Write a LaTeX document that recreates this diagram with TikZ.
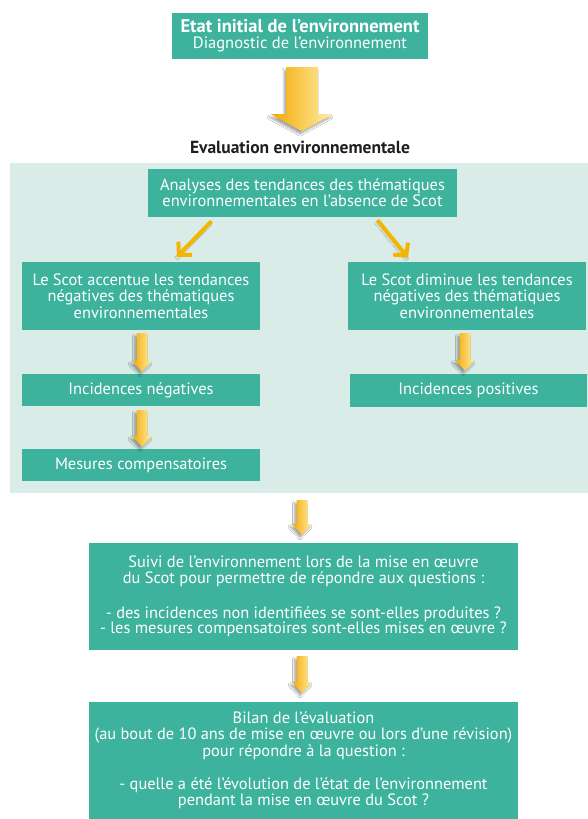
\documentclass[tikz,border=0pt]{standalone}
\usepackage{fontspec}
\setmainfont{PT Sans}
\usetikzlibrary{arrows.meta,calc,shadows.blur}
\definecolor{tealbox}{HTML}{3DB39E}
\definecolor{panelbg}{HTML}{D9ECE7}
\definecolor{arrowA}{HTML}{F4A700}
\definecolor{arrowB}{HTML}{FFF0A8}
\definecolor{diagcol}{HTML}{F5B400}
\definecolor{titlecol}{HTML}{1E1E1E}
\tikzset{
  box/.style={fill=tealbox, text=white, align=center, inner sep=2pt,
    font=\fontsize{16.4}{16.3}\selectfont},
  arrowfill/.style={left color=arrowA, right color=arrowB,
    blur shadow={shadow xshift=-2pt, shadow yshift=-3pt, shadow blur steps=6, shadow opacity=35}},
  diagarrow/.style={draw=diagcol, line width=4pt,
    -{Straight Barb[length=9pt,width=19pt,line width=4pt]},
    blur shadow={shadow xshift=-1pt, shadow yshift=-2pt, shadow opacity=20}}
}
% block arrow: start, end, shaft half width, head half width, head length
\newcommand\blockarrow[5]{%
  \path[arrowfill] let \p1=(#1), \p2=(#2) in
    (\x1-#3pt,\y1) -- (\x1+#3pt,\y1) -- (\x1+#3pt,\y2+#5pt) -- (\x1+#4pt,\y2+#5pt)
    -- (\x1,\y2) -- (\x1-#4pt,\y2+#5pt) -- (\x1-#3pt,\y2+#5pt) -- cycle;}
\begin{document}
\begin{tikzpicture}[x=1pt,y=-1pt]
\useasboundingbox (0,0) rectangle (588,819);
\fill[white] (0,0) rectangle (588,819);

% panel
\node[fill=panelbg, minimum width=578pt, minimum height=330pt, inner sep=0pt] (panel) at (299,328) {};

% top box
\node[box, minimum width=256pt, minimum height=46pt, inner sep=0pt] (top) at (300,36)
  {{\fontsize{18.5}{16.5}\selectfont\bfseries Etat initial de l’environnement}\\
   {\fontsize{16.5}{16.5}\selectfont Diagnostic de l’environnement}};

\node[text=titlecol, font=\fontsize{17.5}{18}\selectfont\bfseries] (evaltitle) at (300,147)
  {Evaluation environnementale};

\node[box, minimum width=309pt, minimum height=48pt] (analyses) at (302.5,193)
  {Analyses des tendances des thématiques\\environnementales en l’absence de Scot};

\node[box, minimum width=238pt, minimum height=68pt] (left1) at (141,296)
  {Le Scot accentue les tendances\\négatives des thématiques\\environnementales};
\node[box, minimum width=238pt, minimum height=68pt] (right1) at (467,296)
  {Le Scot diminue les tendances\\négatives des thématiques\\environnementales};

\node[box, minimum width=238pt, minimum height=32pt] (incneg) at (141,390)
  {Incidences négatives};
\node[box, minimum width=238pt, minimum height=32pt] (mesures) at (141,465)
  {Mesures compensatoires};
\node[box, minimum width=237pt, minimum height=33pt] (incpos) at (468.5,390.5)
  {Incidences positives};

\node[box, minimum width=429pt, minimum height=107pt, font=\fontsize{16.4}{15.6}\selectfont] (suivi) at (303.5,596.5)
  {Suivi de l’environnement lors de la mise en œuvre\\
   du Scot pour permettre de répondre aux questions :\\[19pt]
   - des incidences non identifiées se sont-elles produites ?\\
   - les mesures compensatoires sont-elles mises en œuvre ?};

\node[box, minimum width=429pt, minimum height=117pt] (bilan) at (303.5,760.5)
  {Bilan de l’évaluation\\
   (au bout de 10 ans de mise en œuvre ou lors d’une révision)\\
   pour répondre à la question :\\[17pt]
   - quelle a été l’évolution de l’état de l’environnement\\
   pendant la mise en œuvre du Scot ?};

% big arrow
\coordinate (bigS) at ($(top.south)+(2,8)$);
\coordinate (bigE) at ($(evaltitle.north)+(2,-6)$);
\blockarrow{bigS}{bigE}{16}{31}{17}

% diagonal arrows
\draw[diagarrow] ($(analyses.south)+(-91,4)$) -- ($(left1.north)+(36,-5)$);
\draw[diagarrow] ($(analyses.south)+(75,3)$) -- ($(right1.north)+(-59,-4)$);

% small block arrows
\blockarrow{$(left1.south)+(1,3)$}{$(incneg.north)+(1,-2)$}{5.5}{10}{11}
\blockarrow{$(incneg.south)+(1,4)$}{$(mesures.north)+(1,-2)$}{5.5}{10}{11}
\blockarrow{$(right1.south)+(-2,3)$}{$(incpos.north)+(-3.5,-3)$}{5.5}{10}{11}
\blockarrow{$(panel.south)+(3,7)$}{$(suivi.north)+(-1.5,-8)$}{5.5}{10}{11}
\blockarrow{$(suivi.south)+(-1.5,6)$}{$(bilan.north)+(-1.5,-9)$}{5.5}{10}{11}
\end{tikzpicture}
\end{document}
